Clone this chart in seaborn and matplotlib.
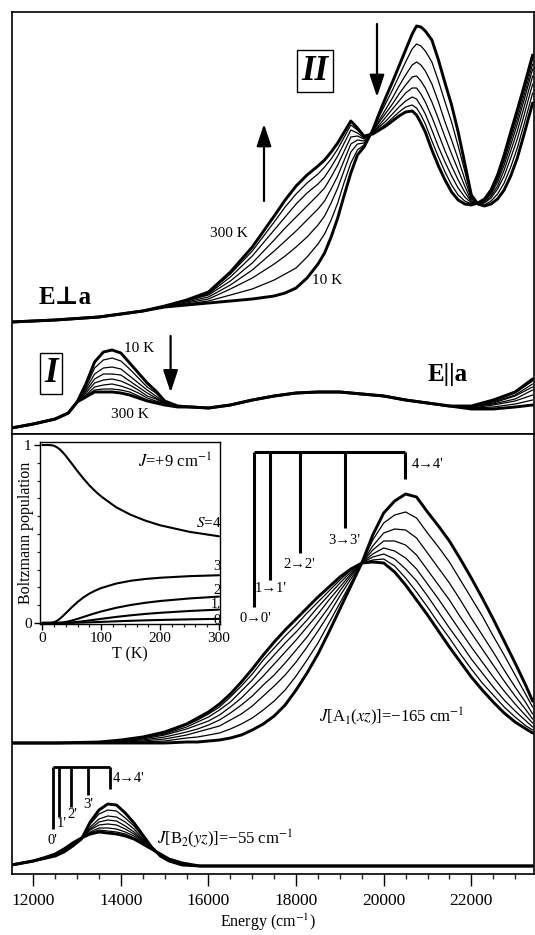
import numpy as np
import pandas as pd
import matplotlib
matplotlib.use("Agg")
import matplotlib.pyplot as plt
import seaborn as sns
from matplotlib.ticker import MultipleLocator, FixedLocator

# ---------------- data (absorbance, arbitrary units) ----------------
temps = [10, 50, 80, 110, 150, 190, 240, 300]

# E perpendicular a (experimental)
perp_E = [11500, 12500, 13500, 14500, 15000, 15500, 16000, 16500, 17000, 17500,
          17750, 18000, 18250, 18500, 18650, 18800, 18950, 19100, 19250, 19400,
          19550, 19750, 19900, 20050, 20200, 20350, 20500, 20650, 20750, 20850,
          20950, 21100, 21250, 21400, 21550, 21700, 21850, 22000, 22150, 22300,
          22450, 22600, 22750, 22900, 23050, 23200, 23400]
perp_10K = [0, 2, 5, 11, 15, 17, 19, 21, 23, 26, 29, 34, 44, 58, 69, 85, 104, 127, 149, 167, 175, 192, 209, 225, 240, 256, 272, 288, 296, 295, 291, 282, 262, 239, 217, 190, 159, 127, 118, 116, 118, 123, 132, 146, 164, 187, 219]
perp_50K = [0, 2, 5, 11, 15, 18, 21, 27, 33, 42, 48, 54, 65, 78, 88, 102, 119, 140, 159, 172, 177, 191, 206, 219, 232, 246, 260, 273, 278, 276, 271, 260, 241, 220, 200, 176, 151, 125, 118, 117, 121, 128, 139, 155, 174, 197, 229]
perp_80K = [0, 2, 5, 11, 15, 19, 23, 33, 44, 58, 66, 75, 85, 97, 106, 119, 134, 152, 170, 178, 179, 190, 202, 213, 224, 236, 247, 257, 260, 257, 251, 238, 220, 200, 182, 163, 143, 123, 118, 119, 124, 133, 146, 164, 183, 206, 238]
perp_110K = [0, 2, 5, 11, 16, 20, 25, 37, 52, 71, 81, 91, 102, 113, 121, 133, 146, 162, 178, 182, 181, 190, 200, 209, 218, 228, 237, 245, 246, 241, 234, 220, 203, 185, 168, 152, 136, 121, 118, 120, 126, 136, 152, 171, 191, 214, 246]
perp_150K = [0, 2, 5, 11, 16, 21, 27, 41, 59, 82, 94, 105, 116, 127, 134, 145, 157, 171, 185, 186, 183, 189, 197, 205, 213, 221, 229, 234, 234, 228, 220, 205, 188, 171, 156, 142, 130, 120, 119, 121, 128, 140, 157, 177, 198, 221, 253]
perp_190K = [0, 2, 5, 11, 16, 21, 28, 45, 66, 92, 105, 118, 129, 138, 145, 155, 166, 179, 192, 189, 184, 189, 195, 201, 208, 215, 221, 225, 223, 216, 208, 192, 175, 160, 146, 134, 125, 119, 119, 122, 129, 143, 161, 182, 203, 226, 258]
perp_240K = [0, 2, 5, 11, 16, 22, 29, 48, 71, 100, 115, 128, 139, 148, 155, 163, 173, 185, 197, 192, 185, 188, 193, 198, 204, 210, 215, 217, 214, 207, 198, 181, 165, 150, 137, 127, 121, 118, 119, 122, 131, 145, 164, 186, 208, 231, 263]
perp_300K = [0, 2, 5, 11, 16, 22, 30, 50, 75, 106, 122, 136, 147, 156, 162, 170, 179, 190, 201, 194, 186, 188, 192, 196, 201, 206, 210, 211, 207, 199, 190, 172, 156, 142, 130, 122, 118, 117, 119, 123, 132, 147, 167, 190, 212, 235, 267]

# E parallel a (experimental)
par_E = [11500, 12000, 12500, 12800, 13000, 13200, 13400, 13600, 13800, 14000, 14200,
         14400, 14600, 14800, 15000, 15300, 15600, 16000, 16500, 17000, 17500, 18000,
         18500, 19000, 19500, 20000, 20500, 21000, 21500, 22000, 22500, 23000, 23400]
par_10K = [0, 4, 9, 15, 26, 44, 66, 76, 78, 75, 65, 55, 45, 37, 27, 22, 21, 20, 23, 28, 32, 35, 36, 36, 34, 32, 28, 25, 22, 19, 19, 21, 23]
par_50K = [0, 4, 9, 15, 26, 41, 60, 68, 70, 67, 59, 50, 41, 35, 26, 22, 21, 20, 23, 28, 32, 35, 36, 36, 34, 32, 28, 25, 22, 20, 21, 24, 28]
par_80K = [0, 4, 9, 15, 26, 39, 54, 60, 61, 59, 52, 45, 38, 32, 25, 22, 21, 20, 23, 28, 32, 35, 36, 36, 34, 32, 28, 25, 22, 20, 23, 27, 33]
par_110K = [0, 4, 9, 15, 26, 37, 49, 54, 54, 53, 47, 41, 35, 30, 25, 21, 21, 20, 23, 28, 32, 35, 36, 36, 34, 32, 28, 25, 22, 21, 24, 29, 38]
par_150K = [0, 4, 9, 15, 26, 35, 45, 48, 49, 47, 43, 38, 32, 29, 24, 21, 21, 20, 23, 28, 32, 35, 36, 36, 34, 32, 28, 25, 22, 21, 25, 32, 41]
par_190K = [0, 4, 9, 15, 26, 33, 41, 43, 44, 42, 39, 35, 30, 27, 24, 21, 21, 20, 23, 28, 32, 35, 36, 36, 34, 32, 28, 25, 22, 21, 26, 33, 44]
par_240K = [0, 4, 9, 15, 26, 32, 38, 39, 39, 38, 36, 32, 28, 26, 23, 21, 21, 20, 23, 28, 32, 35, 36, 36, 34, 32, 28, 25, 22, 22, 27, 35, 47]
par_300K = [0, 4, 9, 15, 26, 31, 36, 36, 36, 35, 33, 30, 27, 25, 23, 21, 21, 20, 23, 28, 32, 35, 36, 36, 34, 32, 28, 25, 22, 22, 28, 36, 49]

# calculated J[A1(xz)] = -165 cm-1
a1_E = [11500, 12500, 13500, 14000, 14500, 15000, 15500, 15750, 16000, 16250, 16500,
        16750, 17000, 17250, 17500, 17750, 18000, 18250, 18500, 18750, 19000, 19250,
        19500, 19750, 20000, 20250, 20500, 20750, 21000, 21250, 21500, 21750, 22000,
        22250, 22500, 22750, 23000, 23250, 23400]
a1_10K = [0, 0, 0, 0, 0, 0, 1, 1, 2, 3, 5, 8, 13, 19, 27, 38, 53, 70, 89, 111, 134, 157, 180, 208, 230, 242, 249, 246, 231, 217, 202, 184, 165, 145, 124, 102, 80, 57, 42]
a1_50K = [0, 0, 0, 1, 1, 2, 5, 6, 8, 10, 14, 19, 25, 33, 42, 53, 67, 83, 100, 120, 140, 160, 180, 203, 220, 228, 231, 225, 210, 196, 181, 163, 145, 127, 107, 88, 68, 48, 36]
a1_80K = [0, 0, 0, 1, 2, 4, 8, 11, 14, 17, 23, 29, 37, 47, 57, 68, 81, 96, 112, 129, 147, 164, 180, 197, 210, 214, 213, 205, 190, 175, 160, 143, 125, 108, 91, 73, 56, 40, 29]
a1_110K = [0, 0, 1, 2, 3, 6, 11, 14, 18, 23, 30, 38, 47, 58, 68, 80, 93, 106, 121, 136, 152, 167, 180, 193, 202, 202, 198, 188, 173, 158, 143, 126, 110, 94, 78, 62, 47, 33, 24]
a1_150K = [0, 0, 1, 2, 4, 8, 14, 18, 22, 28, 36, 45, 56, 67, 79, 91, 103, 116, 129, 143, 156, 169, 180, 189, 195, 192, 185, 174, 159, 144, 128, 112, 96, 81, 66, 52, 39, 27, 20]
a1_190K = [0, 0, 1, 2, 5, 9, 16, 21, 26, 33, 41, 52, 63, 76, 88, 100, 111, 123, 136, 148, 160, 171, 180, 186, 189, 184, 174, 162, 147, 131, 115, 100, 84, 70, 56, 43, 32, 22, 16]
a1_240K = [0, 0, 1, 3, 6, 10, 18, 23, 29, 36, 46, 57, 69, 83, 95, 107, 118, 130, 141, 152, 163, 173, 180, 183, 184, 177, 165, 151, 136, 120, 105, 89, 74, 60, 48, 36, 26, 17, 13]
a1_300K = [0, 0, 1, 3, 6, 11, 19, 25, 31, 39, 49, 61, 74, 88, 101, 113, 124, 135, 146, 156, 166, 174, 180, 181, 180, 171, 158, 143, 128, 112, 96, 81, 66, 53, 41, 30, 21, 14, 10]
a1_band_E = [17039, 17404, 18089, 19123, 20486]
a1_band_labels = ["0\u21920'", "1\u21921'", "2\u21922'", "3\u21923'", "4\u21924'"]

# calculated J[B2(yz)] = -55 cm-1
b2_E = [11500, 12000, 12300, 12500, 12700, 12900, 13100, 13300, 13500, 13700, 13900,
        14100, 14300, 14500, 14700, 14900, 15100, 15400, 15800, 16500, 23400]
b2_10K = [1, 5, 8, 10, 14, 20, 27, 44, 56, 62, 61, 53, 43, 31, 19, 10, 5, 1, 0, 0, 0]
b2_50K = [1, 5, 8, 10, 15, 21, 27, 42, 52, 56, 55, 48, 40, 29, 19, 10, 5, 1, 0, 0, 0]
b2_80K = [1, 5, 8, 11, 15, 21, 27, 39, 47, 50, 49, 44, 37, 27, 18, 11, 6, 2, 0, 0, 0]
b2_110K = [1, 5, 9, 11, 16, 22, 28, 37, 44, 46, 45, 40, 34, 26, 18, 11, 6, 2, 0, 0, 0]
b2_150K = [1, 5, 9, 11, 16, 22, 28, 36, 41, 42, 41, 37, 32, 25, 18, 11, 6, 2, 0, 0, 0]
b2_190K = [1, 5, 9, 12, 16, 22, 28, 34, 38, 38, 37, 34, 30, 24, 17, 12, 7, 3, 0, 0, 0]
b2_240K = [1, 5, 9, 12, 17, 23, 28, 33, 36, 35, 34, 32, 28, 23, 17, 12, 7, 3, 0, 0, 0]
b2_300K = [1, 5, 9, 12, 17, 23, 28, 32, 34, 33, 32, 30, 27, 22, 17, 12, 7, 3, 0, 0, 0]
b2_band_E = [12447, 12587, 12852, 13249, 13751]
b2_band_labels = ["0'", "1'", "2'", "3'", "4\u21924'"]

# Boltzmann populations (inset), J = +9 cm-1
pop_T = [0, 10, 15, 20, 25, 30, 35, 40, 45, 50, 60, 70, 80, 90, 100, 125, 150, 175, 200, 250, 300]
pop_S4 = [1.0, 1.0, 0.999, 0.996, 0.987, 0.975, 0.958, 0.939, 0.917, 0.896, 0.852, 0.811, 0.773, 0.740, 0.711, 0.651, 0.608, 0.575, 0.549, 0.512, 0.487]
pop_S3 = [0, 0, 0.001, 0.004, 0.012, 0.024, 0.039, 0.055, 0.071, 0.088, 0.118, 0.144, 0.165, 0.182, 0.196, 0.221, 0.237, 0.247, 0.254, 0.263, 0.268]
pop_S2 = [0, 0, 0, 0.0001, 0.0004, 0.0013, 0.003, 0.0056, 0.0091, 0.0133, 0.0231, 0.0338, 0.0446, 0.0548, 0.0644, 0.0848, 0.1008, 0.1133, 0.1232, 0.1377, 0.148]
pop_S1 = [0, 0, 0, 0, 0, 0.0001, 0.0004, 0.0009, 0.0017, 0.0028, 0.0058, 0.0097, 0.014, 0.0185, 0.023, 0.0336, 0.0428, 0.0506, 0.057, 0.0672, 0.075]
pop_S0 = [0, 0, 0, 0, 0, 0, 0, 0.0002, 0.0003, 0.0006, 0.0013, 0.0022, 0.0034, 0.0046, 0.0059, 0.0091, 0.012, 0.0145, 0.0167, 0.0202, 0.023]

x_major = [12000, 14000, 16000, 18000, 20000, 22000]

# ---------------- style ----------------
sns.set_theme(style="white")
plt.rcParams["font.family"] = ["Liberation Serif", "DejaVu Serif"]
plt.rcParams["mathtext.fontset"] = "stix"
plt.rcParams["axes.edgecolor"] = "black"
plt.rcParams["axes.linewidth"] = 1.2

W, H = 535, 935
fig = plt.figure(figsize=(W / 100, H / 100), dpi=100)
fig.patch.set_facecolor("white")


def rect(x0, y0, x1, y1):
    return [x0 / W, 1 - y1 / H, (x1 - x0) / W, (y1 - y0) / H]


def ftxt(x, y, s, **kw):
    kw.setdefault("ha", "center")
    kw.setdefault("va", "center")
    kw.setdefault("color", "black")
    fig.text(x / W, 1 - y / H, s, **kw)


def farrow(x, y_tail, y_tip, hl=1.35, hw=0.45):
    fig.add_artist(matplotlib.patches.FancyArrowPatch(
        (x / W, 1 - y_tail / H), (x / W, 1 - y_tip / H),
        transform=fig.transFigure, arrowstyle=f"-|>,head_length={hl},head_width={hw}",
        mutation_scale=10, color="black", lw=1.6, shrinkA=0, shrinkB=0))


XL = (11514, 23420)


def draw_family(ax, E, curves, lw_ext=2.1, lw_mid=0.9):
    rows = []
    for T, vals in zip(temps, curves):
        for e, v in zip(E, vals):
            rows.append((e, v, T))
    df = pd.DataFrame(rows, columns=["E", "A", "T"])
    for i, T in enumerate(temps):
        sub = df[df["T"] == T]
        lw = lw_ext if i in (0, len(temps) - 1) else lw_mid
        sns.lineplot(data=sub, x="E", y="A", ax=ax, color="black", lw=lw,
                     estimator=None, sort=False, legend=False,
                     solid_joinstyle="round", solid_capstyle="round")
    ax.set_xlabel("")
    ax.set_ylabel("")


def plain(ax, spines=True):
    ax.set_xlim(*XL)
    ax.set_xticks([])
    ax.set_yticks([])
    for s in ax.spines.values():
        s.set_visible(spines)
        s.set_color("black")
        s.set_linewidth(1.2)
    if not spines:
        ax.patch.set_alpha(0)


# ---- top panel ----
ax1 = fig.add_axes(rect(12, 12, 533.5, 434))
ax1b = fig.add_axes(rect(12, 12, 533.5, 434))
draw_family(ax1, perp_E, [perp_10K, perp_50K, perp_80K, perp_110K, perp_150K, perp_190K, perp_240K, perp_300K])
draw_family(ax1b, par_E, [par_10K, par_50K, par_80K, par_110K, par_150K, par_190K, par_240K, par_300K])
plain(ax1, True)
plain(ax1b, False)
ax1.set_ylim(-112, 310)
ax1b.set_ylim(-6, 416)

# ---- lower frame: A1 and B2 ----
ax2 = fig.add_axes(rect(12, 434, 533.5, 874))
ax3 = fig.add_axes(rect(12, 434, 533.5, 874))
draw_family(ax2, a1_E, [a1_10K, a1_50K, a1_80K, a1_110K, a1_150K, a1_190K, a1_240K, a1_300K])
draw_family(ax3, b2_E, [b2_10K, b2_50K, b2_80K, b2_110K, b2_150K, b2_190K, b2_240K, b2_300K])
plain(ax2, True)
plain(ax3, False)
ax2.set_ylim(-131, 309)
ax3.set_ylim(-8, 432)

# band brackets
a1_low = [136, 163, 190, 215, 264]
ax2.vlines(a1_band_E, a1_low, 291, color="black", lw=2.2)
ax2.hlines(291, a1_band_E[0], a1_band_E[-1], color="black", lw=2.2)
b2_low = [37, 49, 59, 71, 77]
ax3.vlines(b2_band_E, b2_low, 99, color="black", lw=2.0)
ax3.hlines(99, b2_band_E[0], b2_band_E[-1], color="black", lw=2.0)

# bottom axis ticks
ax2.xaxis.set_major_locator(FixedLocator(x_major))
ax2.xaxis.set_minor_locator(MultipleLocator(500))
ax2.set_xticklabels([str(v) for v in x_major])
ax2.tick_params(axis="x", which="major", direction="out", length=8.5, width=1.0,
                labelsize=12.5, pad=5, bottom=True, colors="black")
ax2.tick_params(axis="x", which="minor", direction="out", length=3.5, width=1.0, bottom=True)
ax2.set_xlim(*XL)

# ---- inset ----
axin = fig.add_axes(rect(40, 442, 220, 624))
for pops in [pop_S4, pop_S3, pop_S2, pop_S1, pop_S0]:
    sns.lineplot(x=pop_T, y=pops, ax=axin, color="black", lw=1.5, estimator=None, sort=False)
axin.set_xlim(-3.9, 301.7)
axin.set_ylim(-0.006, 1.017)
axin.set_xlabel("")
axin.set_ylabel("")
for s in axin.spines.values():
    s.set_color("black")
    s.set_linewidth(1.0)
axin.xaxis.set_major_locator(FixedLocator([0, 100, 200, 300]))
axin.xaxis.set_minor_locator(MultipleLocator(20))
axin.yaxis.set_major_locator(FixedLocator([0, 1]))
axin.yaxis.set_minor_locator(MultipleLocator(0.1))
axin.set_yticklabels(["0", "1"])
axin.tick_params(axis="both", which="major", direction="out", length=4, width=1.0,
                 labelsize=11, pad=2, left=True, bottom=True, colors="black")
axin.tick_params(axis="both", which="minor", direction="out", length=2.5, width=0.9,
                 left=True, bottom=True)

# ---------------- texts ----------------
ftxt(65, 298, "E\u22A5a", fontsize=18, fontweight="bold")
ftxt(448, 375, "E||a", fontsize=18, fontweight="bold")
box = dict(boxstyle="square,pad=0.12", fc="white", ec="black", lw=1.0)
ftxt(315, 71, "II", fontsize=25, fontweight="bold", fontstyle="italic", bbox=box)
ftxt(51, 373.5, "I", fontsize=25, fontweight="bold", fontstyle="italic", bbox=box)
ftxt(229, 233, "300 K", fontsize=11)
ftxt(327, 281, "10 K", fontsize=11)
ftxt(139, 348, "10 K", fontsize=11)
ftxt(130, 414, "300 K", fontsize=11)

farrow(264, 201, 124)
farrow(377, 24, 97)
farrow(170.6, 336, 392.4)

ftxt(175, 462, "$J$=+9 cm$^{-1}$", fontsize=12)
ftxt(208.5, 523, "$S$=4", fontsize=11)
ftxt(216.5, 566, "3", fontsize=10.5)
ftxt(216.5, 590, "2", fontsize=10.5)
ftxt(215.5, 605, "1.", fontsize=10)
ftxt(217, 620, "0", fontsize=10.5)
ftxt(26, 533, "Boltzmann population", fontsize=11.5, rotation=90)
ftxt(130, 654, "T (K)", fontsize=11.5)

for (x, y), lab in zip([(255, 618), (271, 589), (299, 565), (344, 540)], a1_band_labels[:4]):
    ftxt(x, y, lab, fontsize=10.5)
ftxt(412, 465, a1_band_labels[4], fontsize=10.5, ha="left")
ftxt(392, 717, "$J$[A$_1$($xz$)]=\u2212165 cm$^{-1}$", fontsize=12)

for (x, y), lab in zip([(52, 840.5), (62, 823.5), (72, 815), (88, 804.5)], b2_band_labels[:4]):
    ftxt(x, y, lab, fontsize=10.5)
ftxt(113, 778.5, b2_band_labels[4], fontsize=10.5, ha="left")
ftxt(225, 839, "$J$[B$_2$($yz$)]=\u221255 cm$^{-1}$", fontsize=12)

ftxt(268, 922, "Energy (cm$^{-1}$)", fontsize=11.5)

fig.savefig("out.png", dpi=100, facecolor="white")
